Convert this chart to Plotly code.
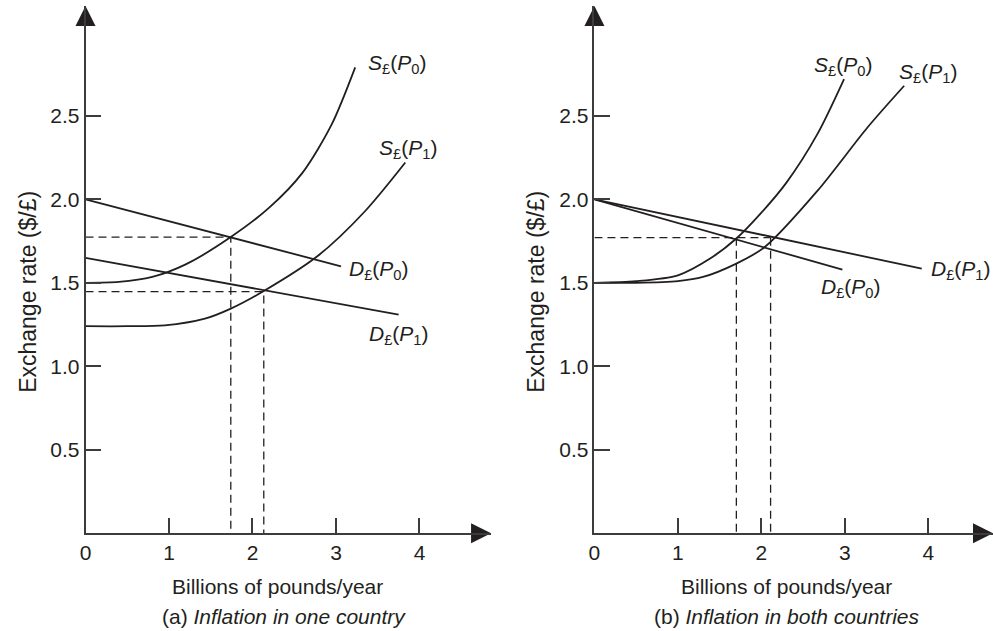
import plotly.graph_objects as go

# ---------------- data ----------------
# Panel (a): inflation in one country
a_S0_x = [0, 0.4, 0.8, 1.2, 1.74, 2.2, 2.6, 2.95, 3.23]
a_S0_y = [1.50, 1.505, 1.535, 1.61, 1.774, 1.95, 2.16, 2.45, 2.79]
a_S1_x = [0, 0.5, 0.95, 1.43, 1.74, 2.13, 2.78, 3.35, 3.83]
a_S1_y = [1.24, 1.24, 1.245, 1.285, 1.345, 1.449, 1.66, 1.93, 2.22]
a_D0_x = [0, 3.06]
a_D0_y = [2.0, 1.599]
a_D1_x = [0, 3.75]
a_D1_y = [1.649, 1.31]
a_eq_x = [1.74, 2.135]
a_eq_y = [1.774, 1.447]

# Panel (b): inflation in both countries
b_S0_x = [0, 0.5, 1.0, 1.4, 1.70, 2.0, 2.3, 2.67, 2.99]
b_S0_y = [1.50, 1.51, 1.545, 1.65, 1.765, 1.92, 2.10, 2.39, 2.72]
b_S1_x = [0, 0.5, 1.0, 1.3, 1.70, 2.04, 2.67, 3.27, 3.71]
b_S1_y = [1.50, 1.50, 1.51, 1.535, 1.615, 1.714, 2.05, 2.43, 2.68]
b_D0_x = [0, 2.97]
b_D0_y = [2.0, 1.579]
b_D1_x = [0, 3.92]
b_D1_y = [2.0, 1.585]
b_eq_x = [1.70, 2.11]
b_eq_y = [1.77, 1.77]

x_tickvals = [0, 1, 2, 3, 4]
x_ticktext = ["0", "1", "2", "3", "4"]
y_tickvals = [0.5, 1.0, 1.5, 2.0, 2.5]
y_ticktext = ["0.5", "1.0", "1.5", "2.0", "2.5"]

labels_a = [
    ("<i>S</i><sub>£</sub>(<i>P</i><sub>0</sub>)", 3.36, 2.81),
    ("<i>S</i><sub>£</sub>(<i>P</i><sub>1</sub>)", 3.49, 2.30),
    ("<i>D</i><sub>£</sub>(<i>P</i><sub>0</sub>)", 3.13, 1.577),
    ("<i>D</i><sub>£</sub>(<i>P</i><sub>1</sub>)", 3.37, 1.187),
]
labels_b = [
    ("<i>S</i><sub>£</sub>(<i>P</i><sub>0</sub>)", 2.61, 2.80),
    ("<i>S</i><sub>£</sub>(<i>P</i><sub>1</sub>)", 3.62, 2.755),
    ("<i>D</i><sub>£</sub>(<i>P</i><sub>1</sub>)", 4.01, 1.577),
    ("<i>D</i><sub>£</sub>(<i>P</i><sub>0</sub>)", 2.69, 1.466),
]

x_title = "Billions of pounds/year"
y_title = "Exchange rate ($/£)"
cap_a = "(a) <i>Inflation in one country</i>"
cap_b = "(b) <i>Inflation in both countries</i>"

# ---------------- styling ----------------
W, H = 993, 631
INK = "#231f20"
AX = "#3c3c3c"
FONT = "Liberation Sans, Arial, Helvetica, sans-serif"
FS = 21
PX_X = 84.0      # pixels per x unit
PX_Y = 167.0     # pixels per y unit

# axis geometry (pixels)
a_x0, b_x0 = 80, 592
y0_px, ytop_px = 533.3, 6
a_xend = 488
b_xend = W

y_range_top = (y0_px - ytop_px) / PX_Y
a_xmax = (a_xend - a_x0) / PX_X
b_xmax = (b_xend - b_x0) / PX_X
ydom = [(H - y0_px) / H, (H - ytop_px) / H]

fig = go.Figure()

def curve(x, y, xa, ya, dash=None, width=1.8):
    fig.add_trace(go.Scatter(
        x=x, y=y, xaxis=xa, yaxis=ya, mode="lines",
        line=dict(color=INK, width=width, shape="spline" if len(x) > 2 and dash is None else "linear",
                  smoothing=0.8, dash=dash),
        hoverinfo="skip", showlegend=False))

DASH = "8px,5px"
# panel a
curve(a_S0_x, a_S0_y, "x", "y")
curve(a_S1_x, a_S1_y, "x", "y")
curve(a_D0_x, a_D0_y, "x", "y")
curve(a_D1_x, a_D1_y, "x", "y")
for xe, ye in zip(a_eq_x, a_eq_y):
    curve([0, xe, xe], [ye, ye, 0], "x", "y", dash=DASH, width=1.3)
# panel b
curve(b_S0_x, b_S0_y, "x2", "y2")
curve(b_S1_x, b_S1_y, "x2", "y2")
curve(b_D0_x, b_D0_y, "x2", "y2")
curve(b_D1_x, b_D1_y, "x2", "y2")
curve([0, max(b_eq_x)], [b_eq_y[1], b_eq_y[1]], "x2", "y2", dash=DASH, width=1.3)
for xe, ye in zip(b_eq_x, b_eq_y):
    curve([xe, xe], [ye, 0], "x2", "y2", dash=DASH, width=1.3)

# arrow heads on axes
for xa, ya, xmax in (("x", "y", a_xmax), ("x2", "y2", b_xmax)):
    fig.add_trace(go.Scatter(
        x=[0], y=[y_range_top], xaxis=xa, yaxis=ya, mode="markers",
        marker=dict(symbol="arrow-up", size=20, color=INK, line=dict(width=0)),
        cliponaxis=False, hoverinfo="skip", showlegend=False))
    fig.add_trace(go.Scatter(
        x=[xmax], y=[0], xaxis=xa, yaxis=ya, mode="markers",
        marker=dict(symbol="arrow-right", size=20, color=INK, line=dict(width=0)),
        cliponaxis=False, hoverinfo="skip", showlegend=False))

common_x = dict(showgrid=False, zeroline=False, showline=True, linecolor=AX, linewidth=1.5,
                ticks="inside", ticklen=16, tickwidth=1.5, tickcolor=AX,
                tickvals=x_tickvals, ticktext=x_ticktext,
                tickfont=dict(family=FONT, size=FS, color=INK), fixedrange=True)
common_y = dict(showgrid=False, zeroline=False, showline=True, linecolor=AX, linewidth=1.5,
                ticks="inside", ticklen=16, tickwidth=1.5, tickcolor=AX,
                tickvals=y_tickvals, ticktext=y_ticktext,
                tickfont=dict(family=FONT, size=FS, color=INK),
                range=[0, y_range_top], domain=ydom, fixedrange=True)

fig.update_layout(
    width=W, height=H, margin=dict(l=0, r=0, t=0, b=0),
    paper_bgcolor="white", plot_bgcolor="white",
    xaxis=dict(common_x, range=[0, a_xmax], domain=[a_x0 / W, a_xend / W], anchor="y"),
    yaxis=dict(common_y, anchor="x"),
    xaxis2=dict(common_x, range=[0, b_xmax], domain=[b_x0 / W, b_xend / W], anchor="y2"),
    yaxis2=dict(common_y, anchor="x2"),
    font=dict(family=FONT, size=FS, color=INK),
)

ann = []
for txt, x, y in labels_a:
    ann.append(dict(text=txt, x=x, y=y, xref="x", yref="y", xanchor="left", yanchor="middle",
                    showarrow=False, font=dict(size=FS)))
for txt, x, y in labels_b:
    ann.append(dict(text=txt, x=x, y=y, xref="x2", yref="y2", xanchor="left", yanchor="middle",
                    showarrow=False, font=dict(size=FS)))
for cx, title in ((273, x_title), (785, x_title)):
    ann.append(dict(text=title, x=cx / W, y=(H - 586) / H, xref="paper", yref="paper",
                    xanchor="center", yanchor="middle", showarrow=False, font=dict(size=FS)))
ann.append(dict(text=cap_a, x=280 / W, y=(H - 616) / H, xref="paper", yref="paper",
                xanchor="center", yanchor="middle", showarrow=False, font=dict(size=FS)))
ann.append(dict(text=cap_b, x=785 / W, y=(H - 616) / H, xref="paper", yref="paper",
                xanchor="center", yanchor="middle", showarrow=False, font=dict(size=FS)))
for cx in (22, 533):
    ann.append(dict(text=y_title, x=cx / W, y=(H - 292) / H, xref="paper", yref="paper",
                    xanchor="center", yanchor="middle", textangle=-90, showarrow=False,
                    font=dict(size=23)))
fig.update_layout(annotations=ann)

fig.write_html(
    "out.html",
    config={"displayModeBar": False},
    post_script="document.body.style.margin='0';document.body.style.overflow='hidden';"
                "document.documentElement.style.overflow='hidden';",
)
